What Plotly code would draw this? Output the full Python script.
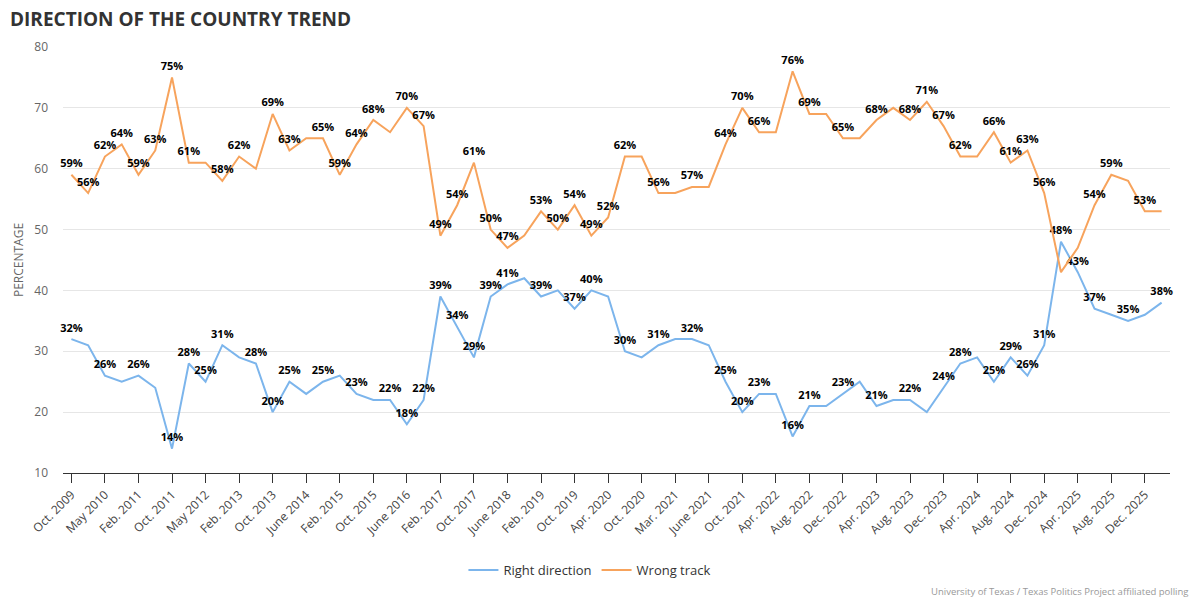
import plotly.graph_objects as go

categories = [
    "Oct. 2009", "Feb. 2010", "May 2010", "Oct. 2010", "Feb. 2011", "June 2011",
    "Oct. 2011", "Feb. 2012", "May 2012", "Oct. 2012", "Feb. 2013", "June 2013",
    "Oct. 2013", "Feb. 2014", "June 2014", "Oct. 2014", "Feb. 2015", "June 2015",
    "Oct. 2015", "Feb. 2016", "June 2016", "Oct. 2016", "Feb. 2017", "June 2017",
    "Oct. 2017", "Feb. 2018", "June 2018", "Oct. 2018", "Feb. 2019", "June 2019",
    "Oct. 2019", "Feb. 2020", "Apr. 2020", "June 2020", "Oct. 2020", "Feb. 2021",
    "Mar. 2021", "Apr. 2021", "June 2021", "Aug. 2021", "Oct. 2021", "Feb. 2022",
    "Apr. 2022", "June 2022", "Aug. 2022", "Oct. 2022", "Dec. 2022", "Feb. 2023",
    "Apr. 2023", "June 2023", "Aug. 2023", "Oct. 2023", "Dec. 2023", "Feb. 2024",
    "Apr. 2024", "June 2024", "Aug. 2024", "Oct. 2024", "Dec. 2024", "Feb. 2025",
    "Apr. 2025", "June 2025", "Aug. 2025", "Oct. 2025", "Dec. 2025", "Feb. 2026",
]

right_direction = [
    32, 31, 26, 25, 26, 24, 14, 28, 25, 31, 29, 28,
    20, 25, 23, 25, 26, 23, 22, 22, 18, 22, 39, 34,
    29, 39, 41, 42, 39, 40, 37, 40, 39, 30, 29, 31,
    32, 32, 31, 25, 20, 23, 23, 16, 21, 21, 23, 25,
    21, 22, 22, 20, 24, 28, 29, 25, 29, 26, 31, 48,
    43, 37, 36, 35, 36, 38,
]

wrong_track = [
    59, 56, 62, 64, 59, 63, 75, 61, 61, 58, 62, 60,
    69, 63, 65, 65, 59, 64, 68, 66, 70, 67, 49, 54,
    61, 50, 47, 49, 53, 50, 54, 49, 52, 62, 62, 56,
    56, 57, 57, 64, 70, 66, 66, 76, 69, 69, 65, 65,
    68, 70, 68, 71, 67, 62, 62, 66, 61, 63, 56, 43,
    47, 54, 59, 58, 53, 53,
]

# indices of points whose value labels are shown in the reference
right_labelled = [0, 2, 4, 6, 7, 8, 9, 11, 12, 13, 15, 17, 19, 20, 21, 22, 23, 24,
                  25, 26, 28, 30, 31, 33, 35, 37, 39, 40, 41, 43, 44, 46, 48, 50,
                  52, 53, 55, 56, 57, 58, 59, 60, 61, 63, 65]
wrong_labelled = [0, 1, 2, 3, 4, 5, 6, 7, 9, 10, 12, 13, 15, 16, 17, 18, 20, 21,
                  22, 23, 24, 25, 26, 28, 29, 30, 31, 32, 33, 35, 37, 39, 40, 41,
                  43, 44, 46, 48, 50, 51, 52, 53, 55, 56, 57, 58, 61, 62, 64]

tick_labels = categories[0::2]

BLUE = "#7cb5ec"
ORANGE = "#f7a35c"
FONT = "Open Sans"

FIG_W, FIG_H = 1200, 600


def labels(values, idx):
    s = set(idx)
    return [f"{v}%" if i in s else "" for i, v in enumerate(values)]


def series(name, values, idx, color):
    return go.Scatter(
        x=categories, y=values, name=name,
        mode="lines+markers+text", line=dict(color=color, width=2),
        marker=dict(size=6, color="rgba(0,0,0,0)"),
        text=labels(values, idx), textposition="top center",
        textfont=dict(family=FONT, size=11, color="#000000", weight="bold"),
        cliponaxis=False,
    )


fig = go.Figure()
fig.add_trace(series("Right direction", right_direction, right_labelled, BLUE))
fig.add_trace(series("Wrong track", wrong_track, wrong_labelled, ORANGE))

fig.update_layout(
    width=FIG_W, height=FIG_H,
    margin=dict(l=63, r=30, t=47, b=127, autoexpand=False),
    paper_bgcolor="#ffffff", plot_bgcolor="#ffffff",
    font=dict(family=FONT, color="#333333"),
    title=dict(text="<b>DIRECTION OF THE COUNTRY TREND</b>", x=10 / FIG_W, xanchor="left",
               y=1 - 19 / FIG_H, yanchor="middle", xref="container", yref="container",
               font=dict(family=FONT, size=19, color="#333333")),
    showlegend=True,
    legend=dict(orientation="h", x=0.476, xanchor="center", y=-0.228, yanchor="middle",
                font=dict(family=FONT, size=13, color="#333333"), itemwidth=30),
    xaxis=dict(
        type="category", range=[-0.5, len(categories) - 0.5],
        tickmode="array", tickvals=tick_labels, ticktext=tick_labels,
        tickangle=-45, ticks="outside", ticklen=9, tickcolor="#333333",
        showline=True, linecolor="#333333", linewidth=1, showgrid=False,
        tickfont=dict(family=FONT, size=12, color="#444444"),
    ),
    yaxis=dict(
        range=[10, 80], dtick=10, showgrid=True, gridcolor="#e6e6e6", zeroline=False,
        tickfont=dict(family=FONT, size=12, color="#666666"), ticklabelstandoff=14,
        title=dict(text="PERCENTAGE", font=dict(family=FONT, size=12, color="#666666"), standoff=8),
    ),
    annotations=[dict(
        text="University of Texas / Texas Politics Project affiliated polling",
        xref="paper", yref="paper", x=1.018, y=-0.277, xanchor="right", yanchor="middle",
        showarrow=False, font=dict(family=FONT, size=9.5, color="#999999"),
    )],
)

fig.write_html("out.html", config={"displayModeBar": False},
               post_script="document.body.style.margin='0';")
